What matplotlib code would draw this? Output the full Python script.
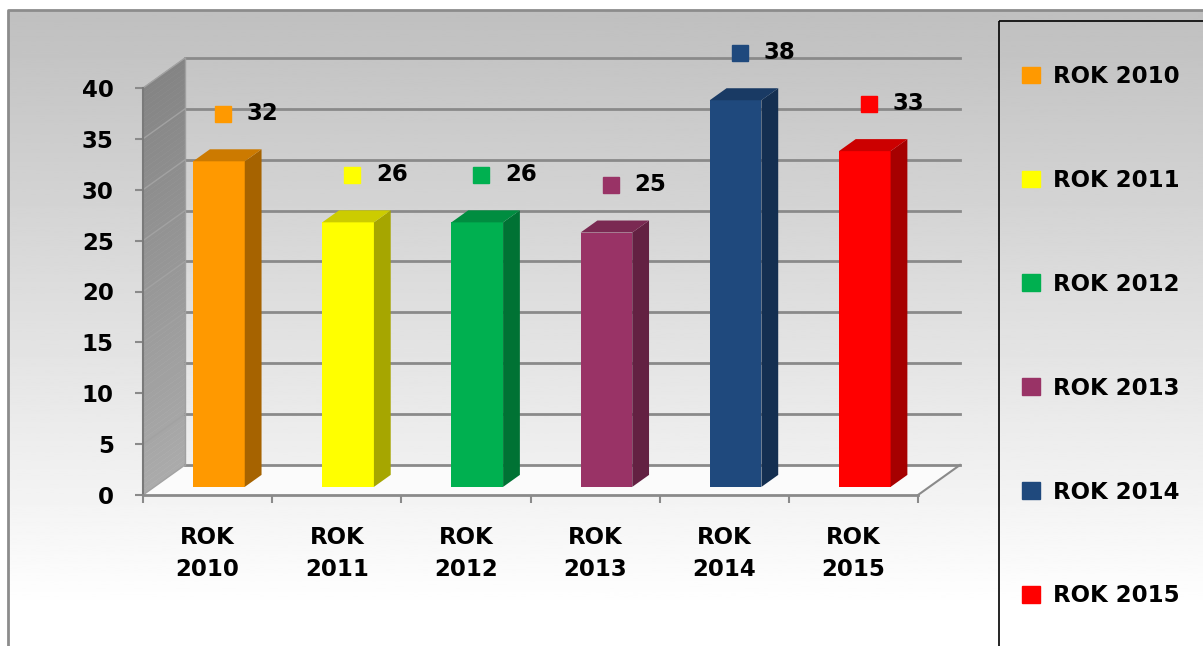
import numpy as np
import matplotlib
matplotlib.use('Agg')
import matplotlib.pyplot as plt
from matplotlib.patches import Polygon, Rectangle, Patch
from matplotlib.colors import to_rgb

categories = ['ROK 2010', 'ROK 2011', 'ROK 2012', 'ROK 2013', 'ROK 2014', 'ROK 2015']
xlabels = ['ROK\n2010', 'ROK\n2011', 'ROK\n2012', 'ROK\n2013', 'ROK\n2014', 'ROK\n2015']
values = [32, 26, 26, 25, 38, 33]
colors = ['#FF9900', '#FFFF00', '#00B050', '#993366', '#1F497D', '#FF0000']
yticks = [0, 5, 10, 15, 20, 25, 30, 35, 40]

plt.rcParams['font.family'] = 'DejaVu Sans'
plt.rcParams['font.weight'] = 'bold'

W, H = 1203, 646
fig = plt.figure(figsize=(W / 100, H / 100), dpi=100)

# background, border and legend box (pixel coords)
bg = fig.add_axes([0, 0, 1, 1], zorder=0)
rows = np.linspace(10, H, 300)
shade = np.clip(0.75 + 0.25 * (rows - 10) / 600, 0, 1)[:, None]
bg.imshow(shade, cmap='gray', vmin=0, vmax=1, extent=(8, W, H, 10), aspect='auto')
bg.plot([8, 8, W], [H, 10, 10], color='#8c8c8c', lw=2)
bg.add_patch(Rectangle((999, 21), 300, 700, fill=False, edgecolor='black', lw=1.2))
bg.set_xlim(0, W)
bg.set_ylim(H, 0)
bg.axis('off')

# main axes = front plane of the 3d box
ax = fig.add_axes([143 / W, 1 - 495 / H, 775 / W, 407 / H], zorder=1)
ax.patch.set_visible(False)
n = len(values)
x = np.arange(n)
DX, DY = 0.325, 2.95
ymax = yticks[-1]

# left side wall, shaded in thin strips (dark at top, lighter at bottom)
edges = np.linspace(0, ymax, 81)
lo, hi = np.array(to_rgb('#ababab')), np.array(to_rgb('#848484'))
for a, b in zip(edges[:-1], edges[1:]):
    t = (a + b) / 2 / ymax
    ax.add_patch(Polygon([(-0.5, a), (-0.5, b), (-0.5 + DX, b + DY), (-0.5 + DX, a + DY)],
                         closed=True, facecolor=lo + (hi - lo) * t, edgecolor=lo + (hi - lo) * t,
                         lw=0.3, clip_on=False, zorder=1))

# floor
floor = Polygon([(-0.5, 0), (n - 0.5, 0), (n - 0.5 + DX, DY), (-0.5 + DX, DY)],
                closed=True, facecolor='#fbfbfb', edgecolor='none', clip_on=False, zorder=1)
ax.add_patch(floor)
ax.plot([n - 0.5, n - 0.5 + DX], [0, DY], color='#8a8a8a', lw=1.5, clip_on=False, zorder=2)

# gridlines on back wall and side wall
for v in yticks:
    ax.plot([-0.5 + DX, n - 0.5 + DX], [v + DY, v + DY], color='#8a8a8a', lw=2,
            clip_on=False, zorder=2)
    ax.plot([-0.5, -0.5 + DX], [v, v + DY], color='#a2a2a2', lw=1, clip_on=False, zorder=2)
ax.plot([-0.5 + DX, -0.5 + DX], [DY, ymax + DY], color='#a0a0a0', lw=1, clip_on=False, zorder=2)

# bars
BW, F0, BD = 0.40, 0.27, 0.40
for i, (v, c) in enumerate(zip(values, colors)):
    rgb = np.array(to_rgb(c))
    x0 = i - BW / 2 + F0 * DX
    x1 = x0 + BW
    y0 = F0 * DY
    ddx, ddy = BD * DX, BD * DY
    ax.add_patch(Rectangle((x0, y0), BW, v, facecolor=c, edgecolor='none',
                           clip_on=False, zorder=3))
    ax.add_patch(Polygon([(x1, y0), (x1, y0 + v), (x1 + ddx, y0 + v + ddy), (x1 + ddx, y0 + ddy)],
                         closed=True, facecolor=rgb * 0.65, edgecolor='none', clip_on=False, zorder=3))
    ax.add_patch(Polygon([(x0, y0 + v), (x1, y0 + v), (x1 + ddx, y0 + v + ddy), (x0 + ddx, y0 + v + ddy)],
                         closed=True, facecolor=rgb * 0.8, edgecolor='none', clip_on=False, zorder=3))
    # value label: key square + number
    ly = v + (F0 + BD) * DY + 3.5
    ax.plot(i + 0.12, ly, marker='s', ms=12, color=c, mec=c, clip_on=False, zorder=4)
    ax.annotate(str(v), (i + 0.12, ly), xytext=(17, 0), textcoords='offset points',
                ha='left', va='center', fontsize=16.5, fontweight='bold', color='black',
                annotation_clip=False, zorder=4)

ax.set_xlim(-0.5, n - 0.5)
ax.set_ylim(0, ymax)

# axes and ticks
for s in ['top', 'right']:
    ax.spines[s].set_visible(False)
ax.spines['left'].set_color('#7a7a7a')
ax.spines['left'].set_linewidth(1.5)
ax.spines['bottom'].set_color('#8a8a8a')
ax.spines['bottom'].set_linewidth(2)
ax.set_yticks(yticks)
ax.set_yticklabels([str(t) for t in yticks])
ax.tick_params(axis='y', length=6, width=1.5, color='#8a8a8a', pad=15, labelsize=16.5)
ax.set_xticks(x)
ax.set_xticklabels(xlabels, linespacing=1.55)
ax.set_xticks(np.arange(n + 1) - 0.5, minor=True)
ax.tick_params(axis='x', which='major', length=0, pad=22, labelsize=16.5)
ax.tick_params(axis='x', which='minor', length=6, width=1.5, color='#8a8a8a')

# legend
handles = [Patch(facecolor=c, edgecolor=c) for c in colors]
fig.legend(handles, categories, loc='upper left', bbox_to_anchor=(1022 / W, 1 - 65 / H),
           frameon=False, prop={'weight': 'bold', 'size': 16.5}, handlelength=0.8,
           handleheight=0.75, handletextpad=0.55, labelspacing=3.53, borderpad=0,
           borderaxespad=0)

fig.savefig('out.png', dpi=100)
